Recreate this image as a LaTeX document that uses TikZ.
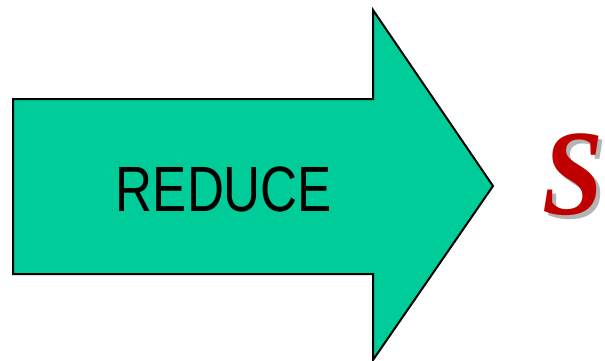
\documentclass[tikz,border=0pt]{standalone}
\usepackage{fontspec}
\setmainfont{Liberation Sans}
\newfontfamily\serifbi{Liberation Serif}
\definecolor{arrowgreen}{HTML}{00CC99}
\definecolor{sred}{HTML}{C00000}
\definecolor{sshadow}{HTML}{B4B4B4}
\begin{document}
\begin{tikzpicture}[x=1pt,y=-1pt,
  bigarrow/.style={fill=arrowgreen,draw=black,line width=2pt,line join=miter},
  label/.style={font=\fontsize{64}{64}\selectfont,text=black,inner sep=0pt,xscale=0.8},
  sletter/.style={font=\serifbi\bfseries\itshape\fontsize{122}{122}\selectfont,inner sep=0pt,xscale=0.9}]
\useasboundingbox (0,0) rectangle (605,361);
\draw[bigarrow] (13,99) -- (373,99) -- (373,10) -- (493,186) -- (373,360) -- (373,274) -- (13,274) -- cycle;
\node[label] (reduce) at (224,189) {REDUCE};
\node[sletter,text=sshadow,anchor=base west] (sshadow) at (546,218) {S};
\node[sletter,text=sred,anchor=base west] (s) at (542,214) {S};
\end{tikzpicture}
\end{document}
